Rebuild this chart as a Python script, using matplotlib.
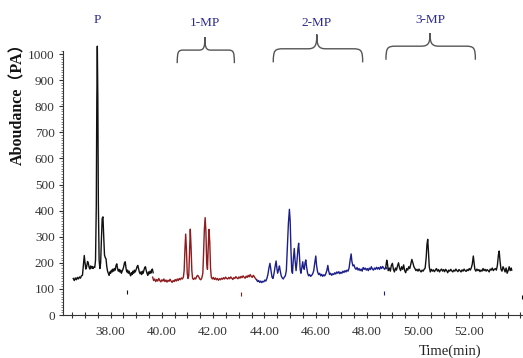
import numpy as np
import matplotlib
matplotlib.use('Agg')
import matplotlib.pyplot as plt
from matplotlib.path import Path
from matplotlib.patches import PathPatch
from matplotlib.ticker import MultipleLocator


# ============================================================
# DATA
# ============================================================

# segment 1 : black, P region
t_p = [36.54, 36.58, 36.62, 36.66, 36.70, 36.74, 36.78, 36.82, 36.86, 36.90,
       36.93, 36.97, 37.00, 37.03, 37.06, 37.10, 37.13, 37.16, 37.19, 37.22,
       37.25, 37.28, 37.31, 37.34, 37.38, 37.41, 37.44, 37.46, 37.48, 37.50,
       37.52, 37.55, 37.58, 37.61, 37.64, 37.67, 37.70, 37.73, 37.76, 37.79,
       37.82, 37.85, 37.88, 37.91, 37.94, 37.97, 38.00, 38.03, 38.06, 38.09,
       38.12, 38.15, 38.18, 38.21, 38.24, 38.27, 38.30, 38.33, 38.36, 38.39,
       38.42, 38.45, 38.48, 38.51, 38.54, 38.57, 38.60, 38.63, 38.66, 38.69,
       38.72, 38.75, 38.78, 38.81, 38.84, 38.87, 38.90, 38.93, 38.96, 39.00,
       39.03, 39.06, 39.09, 39.12, 39.15, 39.18, 39.21, 39.24, 39.27, 39.30,
       39.33, 39.36, 39.39, 39.42, 39.45, 39.48, 39.51, 39.54, 39.57, 39.60,
       39.63, 39.66]
a_p = [140, 132, 142, 135, 144, 138, 146, 141, 150, 152,
       185, 228, 200, 176, 184, 205, 198, 182, 176, 188,
       180, 186, 178, 184, 182, 210, 420, 820, 1030, 830,
       430, 210, 178, 200, 290, 370, 376, 300, 230, 220,
       215, 185, 168, 160, 152, 165, 160, 172, 165, 176,
       168, 178, 172, 190, 196, 178, 168, 175, 165, 172,
       160, 168, 175, 185, 200, 204, 180, 165, 172, 160,
       168, 158, 150, 162, 155, 168, 160, 172, 165, 175,
       185, 190, 178, 165, 158, 165, 155, 168, 160, 172,
       182, 185, 170, 160, 152, 165, 158, 168, 160, 172,
       176, 162]

# segment 2 : dark red, 1-MP region
t_1mp = [39.64, 39.68, 39.72, 39.76, 39.80, 39.84, 39.88, 39.92, 39.96, 40.00,
         40.04, 40.08, 40.12, 40.16, 40.20, 40.24, 40.28, 40.32, 40.36, 40.40,
         40.44, 40.48, 40.52, 40.56, 40.60, 40.64, 40.68, 40.72, 40.76, 40.80,
         40.84, 40.87, 40.90, 40.93, 40.96, 40.99, 41.02, 41.05, 41.08, 41.11,
         41.14, 41.17, 41.20, 41.24, 41.28, 41.32, 41.36, 41.40, 41.44, 41.48,
         41.52, 41.56, 41.60, 41.63, 41.66, 41.69, 41.72, 41.75, 41.78, 41.81,
         41.84, 41.87, 41.90, 41.93, 41.97, 42.01, 42.05, 42.09, 42.13, 42.17,
         42.21, 42.25, 42.29, 42.33, 42.37, 42.41, 42.45, 42.49, 42.53, 42.57,
         42.61, 42.65, 42.69, 42.73, 42.77, 42.81, 42.85, 42.89, 42.93, 42.97,
         43.01, 43.05, 43.09, 43.13, 43.17, 43.21, 43.25, 43.29, 43.33, 43.37,
         43.41, 43.45, 43.49, 43.53, 43.57, 43.61, 43.65, 43.70]
a_1mp = [145, 132, 138, 128, 136, 130, 140, 132, 127, 135,
         130, 138, 128, 134, 126, 133, 129, 137, 130, 125,
         132, 128, 136, 130, 138, 132, 140, 135, 142, 138,
         145, 170, 250, 310, 250, 160, 140, 150, 240, 329,
         260, 170, 140, 136, 142, 138, 148, 152, 146, 138,
         135, 142, 160, 240, 330, 373, 320, 200, 175, 260,
         328, 280, 180, 145, 138, 144, 136, 142, 135, 140,
         133, 139, 135, 141, 137, 143, 138, 145, 140, 138,
         144, 139, 146, 141, 136, 143, 140, 147, 142, 139,
         146, 141, 148, 143, 150, 145, 141, 149, 144, 152,
         146, 155, 148, 144, 152, 147, 140, 135]

# segment 3 : navy, 2-MP region
t_2mp = [43.70, 43.74, 43.78, 43.82, 43.86, 43.90, 43.94, 43.98, 44.02, 44.06,
         44.10, 44.14, 44.18, 44.22, 44.26, 44.30, 44.34, 44.38, 44.42, 44.46,
         44.49, 44.52, 44.56, 44.59, 44.62, 44.66, 44.70, 44.74, 44.78, 44.82,
         44.86, 44.90, 44.94, 44.98, 45.01, 45.04, 45.07, 45.10, 45.13, 45.17,
         45.20, 45.24, 45.27, 45.31, 45.34, 45.37, 45.40, 45.43, 45.47, 45.50,
         45.53, 45.56, 45.59, 45.62, 45.65, 45.69, 45.73, 45.77, 45.81, 45.85,
         45.89, 45.93, 45.97, 46.01, 46.04, 46.08, 46.12, 46.16, 46.20, 46.24,
         46.28, 46.32, 46.36, 46.40, 46.44, 46.48, 46.51, 46.55, 46.59, 46.63,
         46.67, 46.71, 46.75, 46.79, 46.83, 46.87, 46.91, 46.95, 46.99, 47.03,
         47.07, 47.11, 47.15, 47.19, 47.23, 47.27, 47.31, 47.35, 47.39, 47.42,
         47.46, 47.50, 47.54, 47.58, 47.62, 47.66, 47.70, 47.74, 47.78, 47.82,
         47.86, 47.90, 47.94, 47.98, 48.02, 48.06, 48.10, 48.14, 48.18, 48.22,
         48.26, 48.30, 48.34, 48.38, 48.42, 48.46, 48.50, 48.54, 48.58, 48.62,
         48.66, 48.70, 48.74, 48.78]
a_2mp = [135, 128, 132, 125, 130, 124, 129, 127, 134, 130,
         140, 155, 180, 198, 170, 145, 140, 160, 185, 207,
         180, 160, 175, 188, 170, 150, 142, 138, 145, 150,
         170, 260, 350, 405, 360, 250, 170, 160, 210, 255,
         210, 170, 200, 250, 275, 230, 175, 160, 185, 204,
         180, 175, 200, 211, 185, 160, 150, 155, 148, 152,
         158, 170, 200, 226, 190, 165, 155, 160, 150, 156,
         148, 154, 150, 158, 170, 190, 170, 155, 160, 152,
         158, 155, 162, 157, 165, 160, 166, 158, 164, 160,
         168, 163, 170, 165, 172, 168, 180, 210, 234, 205,
         188, 192, 180, 175, 182, 172, 178, 170, 176, 168,
         182, 175, 180, 172, 178, 170, 180, 174, 185, 176,
         172, 180, 175, 183, 176, 182, 175, 185, 178, 186,
         180, 175, 182, 178]

# segment 4 : black, 3-MP region
t_3mp = [48.74, 48.78, 48.81, 48.84, 48.88, 48.92, 48.96, 49.00, 49.04, 49.08,
         49.12, 49.16, 49.20, 49.24, 49.28, 49.32, 49.36, 49.40, 49.44, 49.48,
         49.52, 49.56, 49.60, 49.64, 49.68, 49.72, 49.76, 49.80, 49.84, 49.88,
         49.92, 49.96, 50.00, 50.04, 50.08, 50.12, 50.16, 50.20, 50.24, 50.28,
         50.32, 50.35, 50.38, 50.41, 50.44, 50.48, 50.52, 50.56, 50.60, 50.64,
         50.68, 50.72, 50.76, 50.80, 50.84, 50.88, 50.92, 50.96, 51.00, 51.04,
         51.08, 51.12, 51.16, 51.20, 51.24, 51.28, 51.32, 51.36, 51.40, 51.44,
         51.48, 51.52, 51.56, 51.60, 51.64, 51.68, 51.72, 51.76, 51.80, 51.84,
         51.88, 51.92, 51.96, 52.00, 52.04, 52.08, 52.12, 52.16, 52.19, 52.22,
         52.26, 52.30, 52.34, 52.38, 52.42, 52.46, 52.50, 52.54, 52.58, 52.62,
         52.66, 52.70, 52.74, 52.78, 52.82, 52.86, 52.90, 52.94, 52.98, 53.02,
         53.06, 53.10, 53.14, 53.17, 53.20, 53.24, 53.28, 53.32, 53.36, 53.40,
         53.44, 53.48, 53.52, 53.56, 53.60, 53.64, 53.66]
a_3mp = [182, 210, 195, 170, 180, 168, 190, 198, 175, 165,
         180, 172, 188, 200, 180, 170, 185, 175, 192, 170,
         162, 178, 172, 185, 178, 195, 213, 200, 185, 178,
         170, 175, 168, 176, 170, 165, 172, 168, 175, 180,
         220, 270, 290, 240, 185, 165, 175, 168, 173, 166,
         172, 178, 168, 174, 165, 172, 176, 168, 174, 166,
         175, 170, 162, 172, 168, 175, 169, 165, 172, 168,
         176, 170, 166, 174, 170, 165, 173, 168, 176, 170,
         167, 174, 170, 178, 172, 180, 195, 226, 200, 175,
         168, 176, 170, 174, 166, 172, 168, 178, 170, 175,
         168, 174, 170, 165, 176, 172, 180, 170, 175, 178,
         172, 190, 230, 245, 210, 175, 168, 185, 176, 165,
         180, 160, 170, 185, 170, 180, 172]

# small event marks under the baseline
mark_t = [38.63, 43.09, 48.68, 54.05]
mark_a = [88, 79, 86, 69]

# peak-group labels and their braces (start, tip, end in minutes)
group_labels = ['1-MP', '2-MP', '3-MP']
group_spans = [(40.60, 41.68, 42.83), (44.35, 46.05, 47.84), (48.75, 50.47, 52.24)]

x_ticks = [38, 40, 42, 44, 46, 48, 50, 52]
y_ticks = [0, 100, 200, 300, 400, 500, 600, 700, 800, 900, 1000]


# ============================================================
# STYLE
# ============================================================

BLACK = '#111111'
RED = '#8e1b1e'
NAVY = '#1c1f8a'
LABEL_BLUE = '#2b2b8c'
BRACE_GRAY = '#555555'
SERIF = ['Liberation Serif', 'DejaVu Serif']


def draw_brace(ax, x0, xm, x1, y_end, y_bar, y_tip, color):
    # curly brace opening downward, rounded ends and a soft tip
    w = x1 - x0
    de = w * 0.11
    dt = w * 0.10
    verts = [
        (x0, y_end),
        (x0, y_bar - (y_bar - y_end) * 0.1), (x0 + de * 0.15, y_bar), (x0 + de, y_bar),
        (xm - dt, y_bar),
        (xm - dt * 0.15, y_bar), (xm, y_bar + (y_tip - y_bar) * 0.25), (xm, y_tip),
        (xm, y_bar + (y_tip - y_bar) * 0.25), (xm + dt * 0.15, y_bar), (xm + dt, y_bar),
        (x1 - de, y_bar),
        (x1 - de * 0.15, y_bar), (x1, y_bar - (y_bar - y_end) * 0.1), (x1, y_end),
    ]
    codes = [
        Path.MOVETO,
        Path.CURVE4, Path.CURVE4, Path.CURVE4,
        Path.LINETO,
        Path.CURVE4, Path.CURVE4, Path.CURVE4,
        Path.CURVE4, Path.CURVE4, Path.CURVE4,
        Path.LINETO,
        Path.CURVE4, Path.CURVE4, Path.CURVE4,
    ]
    patch = PathPatch(Path(verts, codes), facecolor='none', edgecolor=color,
                      lw=1.0, clip_on=False)
    ax.add_patch(patch)


# ============================================================
# FIGURE
# ============================================================

fig = plt.figure(figsize=(5.23, 3.58), dpi=100)
ax = fig.add_axes([63 / 523, 1 - 315 / 358, 1 - 63 / 523, (315 - 51.4) / 358])

for t, a, c in [(t_p, a_p, BLACK), (t_1mp, a_1mp, RED),
                (t_2mp, a_2mp, NAVY), (t_3mp, a_3mp, BLACK)]:
    ax.plot(t, a, color=c, lw=1.0, clip_on=False, zorder=3)

mark_colors = [BLACK, RED, NAVY, BLACK]
for t, a, c in zip(mark_t, mark_a, mark_colors):
    ax.plot(t, a, marker='|', color=c, ms=3, mew=0.8, clip_on=False)

ax.set_xlim(36.14, 54.1)
ax.set_ylim(0, 1010)

ax.set_xticks(x_ticks)
ax.set_xticklabels([f'{v:.2f}' for v in x_ticks])
ax.xaxis.set_minor_locator(MultipleLocator(0.5))
ax.set_yticks(y_ticks)
ax.yaxis.set_minor_locator(MultipleLocator(10))

ax.tick_params(axis='x', which='both', direction='inout', length=4,
               width=0.8, color='#333333', pad=6, labelsize=9.5,
               labelcolor='#333333')
ax.tick_params(axis='y', which='major', direction='out', length=3,
               width=0.8, color='#333333', pad=3, labelsize=9.5,
               labelcolor='#333333')
ax.tick_params(axis='y', which='minor', direction='out', length=1.5,
               width=0.5, color='#555555')
for lab in ax.get_xticklabels() + ax.get_yticklabels():
    lab.set_family(SERIF)

ax.spines['top'].set_visible(False)
ax.spines['right'].set_visible(False)
ax.spines['left'].set_color('#333333')
ax.spines['bottom'].set_color('#333333')
ax.patch.set_alpha(0)

# axis labels
fig.text(18 / 523, 1 - 100 / 358, 'Aboudance（PA）', rotation=90,
         ha='center', va='center', fontsize=11.5, fontweight='bold',
         family=['Liberation Serif', 'Noto Sans CJK SC'], color='#111111')
fig.text(450 / 523, 1 - 351 / 358, 'Time(min)', ha='center', va='center',
         fontsize=10.5, family=SERIF, color='#222222')

# group annotations
ax.text(37.48, 1130, 'P', ha='center', va='center', fontsize=9.5,
        family=SERIF, color=LABEL_BLUE, clip_on=False)
brace_levels = [(965, 1015, 1065), (968, 1020, 1075), (978, 1030, 1080)]
label_levels = [1120, 1120, 1132]
for name, (x0, xm, x1), (ye, yb, yt), ly in zip(group_labels, group_spans,
                                                brace_levels, label_levels):
    draw_brace(ax, x0, xm, x1, ye, yb, yt, BRACE_GRAY)
    ax.text(xm, ly, name, ha='center', va='center', fontsize=9.5,
            family=SERIF, color=LABEL_BLUE, clip_on=False)

fig.savefig('out.png', dpi=100)
